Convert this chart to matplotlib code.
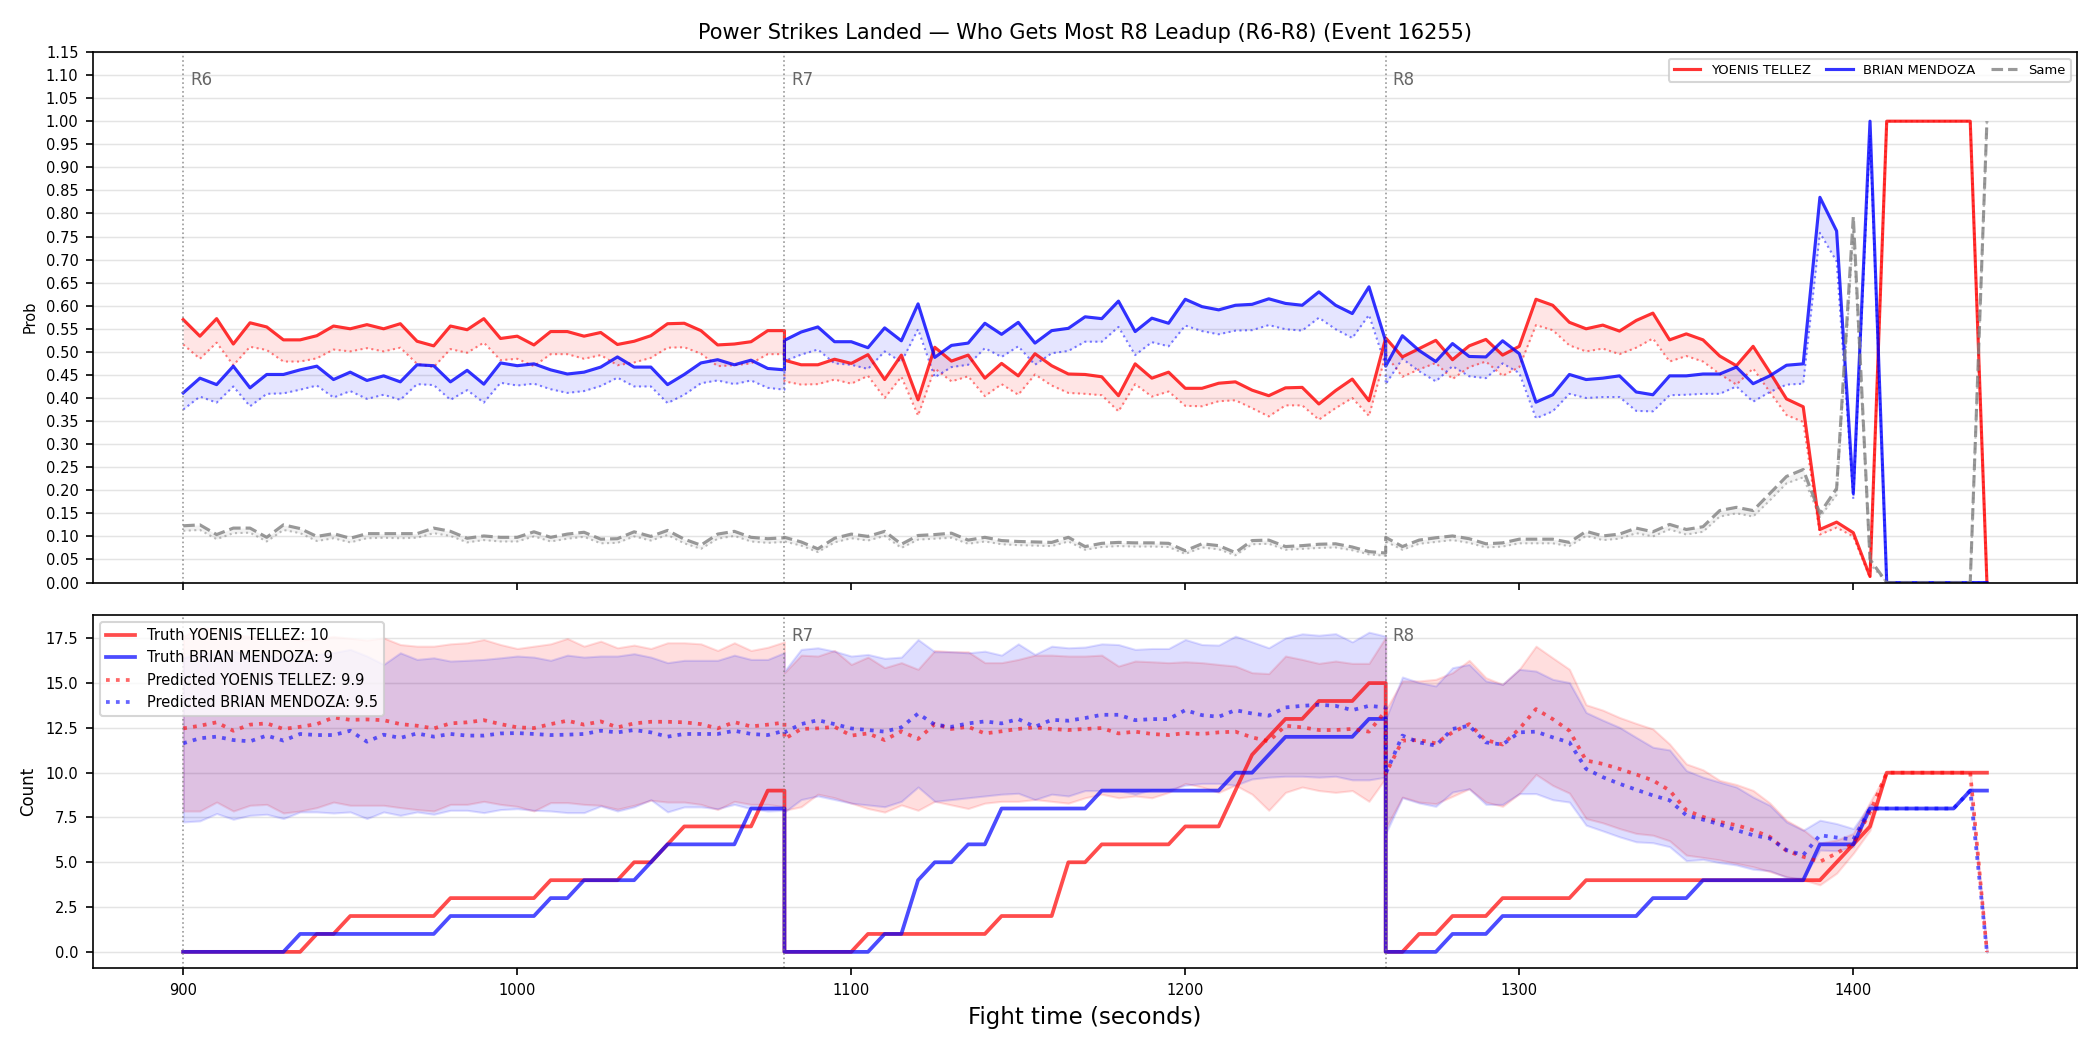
import numpy as np
import matplotlib
matplotlib.use("Agg")
import matplotlib.pyplot as plt

# ---------------- data ----------------
T6 = list(range(900, 1081, 5))
T7 = list(range(1080, 1261, 5))
T8 = list(range(1260, 1441, 5))
round_starts = [900, 1080, 1260]
round_labels = ["R6", "R7", "R8"]

# Top panel: probability (truth solid, predicted dotted)
red_prob_6 = [0.570, 0.534, 0.572, 0.517, 0.563, 0.554, 0.526, 0.526, 0.535, 0.556, 0.550, 0.559, 0.550, 0.561,
              0.523, 0.513, 0.556, 0.548, 0.572, 0.529, 0.534, 0.515, 0.544, 0.544, 0.534, 0.542, 0.516, 0.523,
              0.535, 0.561, 0.562, 0.546, 0.515, 0.517, 0.522, 0.546, 0.546]
red_pred_6 = [0.516, 0.485, 0.520, 0.471, 0.511, 0.504, 0.479, 0.479, 0.486, 0.505, 0.501, 0.508, 0.501, 0.509,
              0.474, 0.467, 0.506, 0.498, 0.520, 0.482, 0.485, 0.469, 0.495, 0.495, 0.485, 0.493, 0.471, 0.477,
              0.487, 0.509, 0.510, 0.496, 0.469, 0.471, 0.475, 0.495, 0.495]
blue_prob_6 = [0.411, 0.443, 0.429, 0.469, 0.422, 0.451, 0.451, 0.461, 0.469, 0.440, 0.456, 0.438, 0.448, 0.435,
               0.472, 0.470, 0.435, 0.460, 0.430, 0.476, 0.470, 0.474, 0.461, 0.452, 0.456, 0.467, 0.489, 0.467,
               0.467, 0.429, 0.451, 0.476, 0.483, 0.472, 0.482, 0.464, 0.461]
blue_pred_6 = [0.375, 0.403, 0.390, 0.425, 0.382, 0.409, 0.410, 0.418, 0.427, 0.401, 0.415, 0.398, 0.407, 0.396,
               0.430, 0.428, 0.396, 0.417, 0.390, 0.433, 0.427, 0.431, 0.419, 0.411, 0.415, 0.426, 0.444, 0.425,
               0.425, 0.389, 0.407, 0.432, 0.438, 0.430, 0.438, 0.422, 0.418]
same_prob_6 = [0.123, 0.125, 0.104, 0.118, 0.118, 0.098, 0.125, 0.117, 0.100, 0.106, 0.096, 0.106, 0.106, 0.106,
               0.106, 0.118, 0.111, 0.096, 0.101, 0.098, 0.098, 0.110, 0.098, 0.105, 0.109, 0.094, 0.095, 0.110,
               0.100, 0.113, 0.094, 0.081, 0.105, 0.111, 0.098, 0.095, 0.097]
same_pred_6 = [0.112, 0.114, 0.094, 0.107, 0.108, 0.089, 0.114, 0.107, 0.090, 0.096, 0.087, 0.096, 0.097, 0.096,
               0.097, 0.107, 0.101, 0.087, 0.092, 0.089, 0.089, 0.100, 0.089, 0.095, 0.099, 0.085, 0.086, 0.100,
               0.091, 0.103, 0.085, 0.073, 0.095, 0.101, 0.089, 0.086, 0.088]

red_prob_7 = [0.482, 0.472, 0.472, 0.484, 0.475, 0.494, 0.440, 0.493, 0.396, 0.510, 0.480, 0.493, 0.443, 0.475,
              0.448, 0.496, 0.470, 0.452, 0.451, 0.446, 0.405, 0.474, 0.443, 0.456, 0.421, 0.421, 0.432, 0.435,
              0.417, 0.405, 0.422, 0.423, 0.387, 0.416, 0.441, 0.394, 0.530]
red_pred_7 = [0.436, 0.429, 0.430, 0.440, 0.431, 0.448, 0.400, 0.446, 0.362, 0.464, 0.436, 0.447, 0.404, 0.430,
              0.407, 0.451, 0.427, 0.411, 0.409, 0.406, 0.371, 0.430, 0.403, 0.414, 0.383, 0.382, 0.393, 0.395,
              0.378, 0.360, 0.384, 0.384, 0.353, 0.378, 0.400, 0.361, 0.494]
blue_prob_7 = [0.525, 0.543, 0.554, 0.522, 0.522, 0.509, 0.552, 0.524, 0.604, 0.488, 0.514, 0.519, 0.562, 0.538,
               0.564, 0.519, 0.546, 0.551, 0.576, 0.572, 0.610, 0.544, 0.573, 0.562, 0.614, 0.598, 0.591, 0.601,
               0.603, 0.615, 0.605, 0.601, 0.630, 0.601, 0.583, 0.641, 0.523]
blue_pred_7 = [0.480, 0.494, 0.505, 0.475, 0.472, 0.463, 0.501, 0.478, 0.549, 0.445, 0.467, 0.472, 0.508, 0.489,
               0.512, 0.472, 0.497, 0.502, 0.522, 0.522, 0.554, 0.493, 0.521, 0.512, 0.557, 0.545, 0.538, 0.546,
               0.547, 0.558, 0.549, 0.546, 0.574, 0.549, 0.530, 0.580, 0.470]
same_prob_7 = [0.098, 0.088, 0.073, 0.096, 0.105, 0.100, 0.111, 0.083, 0.102, 0.104, 0.107, 0.092, 0.098, 0.091,
               0.089, 0.088, 0.087, 0.098, 0.078, 0.085, 0.087, 0.086, 0.086, 0.085, 0.069, 0.084, 0.080, 0.065,
               0.091, 0.092, 0.078, 0.080, 0.083, 0.084, 0.077, 0.067, 0.064]
same_pred_7 = [0.089, 0.080, 0.066, 0.087, 0.096, 0.091, 0.101, 0.075, 0.093, 0.095, 0.097, 0.084, 0.089, 0.083,
               0.081, 0.080, 0.079, 0.089, 0.071, 0.077, 0.079, 0.078, 0.078, 0.077, 0.062, 0.076, 0.072, 0.059,
               0.083, 0.084, 0.071, 0.073, 0.075, 0.076, 0.070, 0.061, 0.058]

red_prob_8 = [0.530, 0.489, 0.507, 0.525, 0.483, 0.513, 0.527, 0.493, 0.512, 0.614, 0.601, 0.564, 0.550, 0.558,
              0.545, 0.568, 0.584, 0.526, 0.539, 0.526, 0.491, 0.470, 0.512, 0.456, 0.398, 0.381, 0.115, 0.131,
              0.108, 0.013, 1.0, 1.0, 1.0, 1.0, 1.0, 1.0, 0.0]
red_pred_8 = [0.494, 0.446, 0.462, 0.476, 0.441, 0.467, 0.479, 0.448, 0.467, 0.558, 0.547, 0.514, 0.501, 0.507,
              0.495, 0.509, 0.529, 0.479, 0.491, 0.479, 0.452, 0.429, 0.464, 0.413, 0.363, 0.348, 0.104, 0.119,
              0.100, 0.010, 1.0, 1.0, 1.0, 1.0, 1.0, 1.0, 0.0]
blue_prob_8 = [0.469, 0.535, 0.503, 0.479, 0.518, 0.490, 0.489, 0.524, 0.496, 0.391, 0.407, 0.451, 0.440, 0.443,
               0.448, 0.413, 0.407, 0.448, 0.448, 0.452, 0.452, 0.467, 0.431, 0.448, 0.471, 0.474, 0.835, 0.762,
               0.193, 1.0, 0.0, 0.0, 0.0, 0.0, 0.0, 0.0, 0.0]
blue_pred_8 = [0.430, 0.485, 0.458, 0.436, 0.469, 0.447, 0.443, 0.475, 0.454, 0.356, 0.371, 0.409, 0.400, 0.402,
               0.402, 0.372, 0.371, 0.406, 0.407, 0.409, 0.409, 0.425, 0.392, 0.413, 0.429, 0.431, 0.758, 0.696,
               0.181, 0.970, 0.0, 0.0, 0.0, 0.0, 0.0, 0.0, 0.0]
same_prob_8 = [0.098, 0.078, 0.092, 0.097, 0.101, 0.095, 0.084, 0.086, 0.094, 0.094, 0.094, 0.087, 0.111, 0.101,
               0.105, 0.118, 0.110, 0.126, 0.115, 0.121, 0.156, 0.163, 0.156, 0.193, 0.230, 0.245, 0.150, 0.204,
               0.793, 0.050, 0.0, 0.0, 0.0, 0.0, 0.0, 0.0, 1.0]
same_pred_8 = [0.089, 0.071, 0.084, 0.088, 0.092, 0.086, 0.076, 0.078, 0.085, 0.085, 0.085, 0.079, 0.101, 0.092,
               0.095, 0.107, 0.100, 0.115, 0.104, 0.110, 0.143, 0.150, 0.143, 0.178, 0.215, 0.228, 0.142, 0.190,
               0.760, 0.040, 0.0, 0.0, 0.0, 0.0, 0.0, 0.0, 1.0]

# Bottom panel: counts
red_truth_6 = [0, 0, 0, 0, 0, 0, 0, 0, 1, 1, 2, 2, 2, 2, 2, 2, 3, 3, 3, 3, 3, 3, 4, 4, 4, 4, 4, 5, 5, 6, 7, 7, 7, 7, 7, 9, 9]
blue_truth_6 = [0, 0, 0, 0, 0, 0, 0, 1, 1, 1, 1, 1, 1, 1, 1, 1, 2, 2, 2, 2, 2, 2, 3, 3, 4, 4, 4, 4, 5, 6, 6, 6, 6, 6, 8, 8, 8]
red_truth_7 = [0, 0, 0, 0, 0, 1, 1, 1, 1, 1, 1, 1, 1, 2, 2, 2, 2, 5, 5, 6, 6, 6, 6, 6, 7, 7, 7, 9, 11, 12, 13, 13, 14, 14, 14, 15, 15]
blue_truth_7 = [0, 0, 0, 0, 0, 0, 1, 1, 4, 5, 5, 6, 6, 8, 8, 8, 8, 8, 8, 9, 9, 9, 9, 9, 9, 9, 9, 10, 10, 11, 12, 12, 12, 12, 12, 13, 13]
red_truth_8 = [0, 0, 1, 1, 2, 2, 2, 3, 3, 3, 3, 3, 4, 4, 4, 4, 4, 4, 4, 4, 4, 4, 4, 4, 4, 4, 4, 5, 6, 7, 10, 10, 10, 10, 10, 10, 10]
blue_truth_8 = [0, 0, 0, 0, 1, 1, 1, 2, 2, 2, 2, 2, 2, 2, 2, 2, 3, 3, 3, 4, 4, 4, 4, 4, 4, 4, 6, 6, 6, 8, 8, 8, 8, 8, 8, 9, 9]

red_mean_6 = [12.47, 12.62, 12.81, 12.34, 12.68, 12.75, 12.44, 12.56, 12.71, 13.08, 12.95, 12.97, 12.93, 12.71,
              12.62, 12.47, 12.75, 12.81, 12.93, 12.71, 12.53, 12.49, 12.71, 12.90, 12.68, 12.86, 12.53, 12.75,
              12.84, 12.84, 12.81, 12.71, 12.47, 12.82, 12.58, 12.68, 12.80]
blue_mean_6 = [11.64, 11.92, 12.01, 11.82, 11.75, 12.07, 11.79, 12.16, 12.10, 12.10, 12.34, 11.73, 12.12, 11.94,
               12.19, 12.01, 12.16, 12.07, 12.07, 12.19, 12.21, 12.16, 12.10, 12.12, 12.16, 12.34, 12.25, 12.38,
               12.25, 12.01, 12.16, 12.16, 12.16, 12.34, 12.16, 12.10, 12.34]
red_mean_7 = [11.88, 12.44, 12.47, 12.56, 12.07, 12.19, 11.82, 12.31, 11.88, 12.71, 12.44, 12.56, 12.19, 12.31,
              12.44, 12.53, 12.44, 12.38, 12.44, 12.49, 12.19, 12.29, 12.16, 12.10, 12.21, 12.16, 12.25, 12.29,
              11.97, 11.75, 12.62, 12.53, 12.38, 12.38, 12.44, 12.29, 13.45]
blue_mean_7 = [12.25, 12.71, 12.93, 12.71, 12.47, 12.38, 12.29, 12.53, 13.30, 12.68, 12.56, 12.75, 12.86, 12.75,
               12.99, 12.56, 12.95, 12.90, 13.05, 13.23, 13.23, 12.93, 12.99, 12.99, 13.49, 13.21, 13.12, 13.49,
               13.30, 13.18, 13.64, 13.73, 13.79, 13.73, 13.49, 13.73, 13.64]
red_mean_8 = [9.94, 11.79, 11.82, 11.64, 12.25, 12.71, 11.82, 11.57, 12.44, 13.55, 12.99, 12.34, 10.68, 10.49,
              10.21, 9.90, 9.57, 9.01, 7.90, 7.53, 7.25, 7.07, 6.79, 6.42, 5.64, 5.31, 5.03, 5.50, 6.05, 7.80,
              10.0, 10.0, 10.0, 10.0, 10.0, 10.0, 0.0]
blue_mean_8 = [9.94, 12.07, 11.69, 11.51, 12.44, 12.62, 11.69, 11.57, 12.25, 12.29, 11.97, 11.69, 10.21, 9.75,
               9.38, 9.05, 8.73, 8.46, 7.62, 7.38, 7.12, 6.79, 6.51, 6.33, 5.68, 5.40, 6.51, 6.38, 6.27, 7.99,
               8.0, 8.0, 8.0, 8.0, 8.0, 9.0, 0.0]

red_hi_6 = [17.6, 18.1, 18.0, 17.7, 17.6, 17.5, 17.6, 17.4, 17.5, 17.6, 17.5, 17.4, 17.52, 17.15, 17.06, 17.06,
            17.19, 17.25, 17.43, 17.15, 16.93, 17.06, 17.19, 17.49, 17.06, 17.34, 16.97, 17.12, 16.93, 17.25,
            17.25, 17.19, 16.82, 17.25, 16.82, 17.00, 17.30]
red_lo_6 = [7.86, 7.86, 8.36, 7.86, 8.18, 8.23, 7.75, 7.86, 8.05, 8.36, 8.18, 8.18, 8.18, 8.05, 7.94, 7.86,
            8.23, 8.23, 8.40, 8.23, 8.12, 7.86, 8.33, 8.33, 8.23, 8.18, 7.96, 8.18, 8.46, 8.36, 8.36, 8.23,
            7.94, 8.40, 8.23, 8.23, 8.10]
blue_hi_6 = [16.4, 16.7, 16.6, 16.8, 16.5, 16.6, 16.4, 16.7, 16.6, 16.7, 16.88, 16.51, 16.04, 16.69, 16.32,
             16.41, 16.23, 16.27, 16.32, 16.41, 16.51, 16.45, 16.27, 16.56, 16.45, 16.51, 16.51, 16.64, 16.45,
             16.14, 16.27, 16.27, 16.27, 16.56, 16.32, 16.32, 16.70]
blue_lo_6 = [7.25, 7.31, 7.72, 7.40, 7.62, 7.68, 7.44, 7.81, 7.81, 7.75, 7.81, 7.44, 7.81, 7.62, 7.81, 7.68,
             7.90, 7.90, 7.77, 7.94, 7.99, 7.90, 7.86, 7.77, 7.77, 8.14, 7.86, 8.09, 8.49, 7.81, 8.09, 8.09,
             7.99, 8.23, 7.99, 7.86, 7.90]
red_hi_7 = [15.58, 16.56, 16.51, 16.82, 16.04, 16.45, 15.86, 16.14, 15.77, 16.82, 16.75, 16.75, 16.14, 16.14,
            16.32, 16.56, 16.56, 16.51, 16.51, 16.56, 15.95, 16.23, 16.19, 16.14, 16.19, 16.14, 16.04, 15.95,
            15.58, 15.53, 16.51, 16.32, 16.10, 16.23, 16.10, 16.10, 17.56]
red_lo_7 = [7.9, 8.1, 8.8, 8.6, 8.3, 8.0, 7.8, 8.2, 7.9, 8.4, 8.2, 8.0, 8.3, 8.4, 8.4, 8.5, 8.4, 8.3, 8.6,
            8.8, 8.6, 8.7, 8.6, 8.9, 9.4, 9.2, 8.9, 9.3, 8.8, 7.9, 8.9, 9.2, 9.0, 8.9, 9.0, 8.4, 9.7]
blue_hi_7 = [15.67, 16.88, 16.97, 16.78, 16.51, 16.60, 16.38, 16.45, 17.43, 16.75, 16.75, 16.69, 16.78, 16.56,
             17.19, 16.60, 17.06, 16.97, 17.01, 17.19, 17.15, 16.88, 16.93, 16.93, 17.43, 17.15, 17.12, 17.62,
             17.30, 16.97, 17.52, 17.75, 17.67, 17.76, 17.30, 17.84, 17.62]
blue_lo_7 = [7.8, 8.5, 8.7, 8.5, 8.3, 8.2, 8.1, 8.4, 9.2, 8.4, 8.5, 8.6, 8.7, 8.8, 8.85, 8.5, 8.8, 8.7, 9.0,
             9.0, 9.0, 8.8, 9.05, 9.05, 9.3, 9.4, 9.4, 9.3, 9.65, 9.75, 9.8, 9.8, 9.75, 9.8, 9.6, 9.6, 9.75]
red_hi_8 = [13.5, 15.12, 15.12, 15.21, 15.58, 16.27, 15.30, 14.93, 15.77, 17.06, 16.41, 15.77, 13.79, 13.49,
            13.08, 12.75, 12.44, 11.60, 10.49, 10.16, 9.57, 9.34, 9.01, 8.31, 7.34, 6.82, 6.08, 6.24, 6.61,
            8.36, 10.0, 10.0, 10.0, 10.0, 10.0, 10.0, 0.0]
red_lo_8 = [6.9, 8.64, 8.36, 8.27, 8.68, 9.10, 8.36, 8.12, 8.83, 9.90, 9.29, 8.86, 7.44, 7.20, 6.88, 6.61,
            6.51, 6.20, 5.40, 5.27, 5.13, 4.94, 4.75, 4.48, 4.20, 4.02, 3.74, 4.39, 5.50, 6.79, 10.0, 10.0,
            10.0, 10.0, 10.0, 10.0, 0.0]
blue_hi_8 = [13.0, 15.34, 15.03, 14.84, 15.86, 16.04, 15.12, 14.93, 15.77, 15.67, 15.21, 15.03, 13.36, 12.93,
             12.53, 11.97, 11.42, 11.27, 10.12, 9.75, 9.47, 9.20, 8.64, 8.18, 7.25, 6.79, 7.35, 7.16, 6.88,
             8.23, 8.0, 8.0, 8.0, 8.0, 8.0, 9.0, 0.0]
blue_lo_8 = [6.6, 8.60, 8.31, 8.12, 8.92, 9.10, 8.23, 8.23, 8.83, 8.83, 8.49, 8.36, 7.07, 6.75, 6.42, 6.14,
             6.09, 5.87, 5.09, 5.16, 4.98, 4.85, 4.61, 4.53, 4.16, 4.11, 5.68, 5.64, 5.87, 8.18, 8.0, 8.0,
             8.0, 8.0, 8.0, 9.0, 0.0]

fighter_red = "YOENIS TELLEZ"
fighter_blue = "BRIAN MENDOZA"
final_red_truth, final_blue_truth = 10, 9
final_red_pred, final_blue_pred = 9.9, 9.5

# ---------------- helpers ----------------
def cat(a, b, c):
    return np.array(list(a) + list(b) + list(c), dtype=float)

t = cat(T6, T7, T8)

RED = "#ff0000"
BLUE = "#0000ff"
GRAY = "#808080"

fig = plt.figure(figsize=(14, 7), dpi=150)
ax1 = fig.add_axes([0.0443, 0.4452, 0.9448, 0.5053])
ax2 = fig.add_axes([0.0443, 0.0781, 0.9448, 0.3362], sharex=ax1)

# ---------------- top panel ----------------
rp, rq = cat(red_prob_6, red_prob_7, red_prob_8), cat(red_pred_6, red_pred_7, red_pred_8)
bp, bq = cat(blue_prob_6, blue_prob_7, blue_prob_8), cat(blue_pred_6, blue_pred_7, blue_pred_8)
sp, sq = cat(same_prob_6, same_prob_7, same_prob_8), cat(same_pred_6, same_pred_7, same_pred_8)

ax1.fill_between(t, rp, rq, color=RED, alpha=0.1, lw=0)
ax1.fill_between(t, bp, bq, color=BLUE, alpha=0.1, lw=0)
ax1.fill_between(t, sp, sq, color=GRAY, alpha=0.1, lw=0)
ax1.plot(t, rq, color=RED, ls=":", lw=1.0, alpha=0.5)
ax1.plot(t, bq, color=BLUE, ls=":", lw=1.0, alpha=0.5)
ax1.plot(t, sq, color=GRAY, ls=":", lw=1.0, alpha=0.5)
l1, = ax1.plot(t, rp, color=RED, lw=1.5, alpha=0.8, label=fighter_red)
l2, = ax1.plot(t, bp, color=BLUE, lw=1.5, alpha=0.8, label=fighter_blue)
l3, = ax1.plot(t, sp, color=GRAY, lw=1.5, ls="--", alpha=0.8, label="Same")

ax1.set_ylim(0, 1.15)
ax1.set_yticks(np.round(np.arange(0, 1.1501, 0.05), 2))
ax1.set_yticklabels([f"{v:.2f}" for v in np.arange(0, 1.1501, 0.05)])
ax1.set_ylabel("Prob", fontsize=7)
ax1.grid(axis="y", color="#d9d9d9", lw=0.7, alpha=0.7)
ax1.set_axisbelow(True)
ax1.tick_params(axis="both", labelsize=7)
plt.setp(ax1.get_xticklabels(), visible=False)
ax1.legend(handles=[l1, l2, l3], loc="upper right", ncol=3, fontsize=6.3, framealpha=0.8,
           columnspacing=1.2)
ax1.set_title("Power Strikes Landed \u2014 Who Gets Most R8 Leadup (R6-R8) (Event 16255)", fontsize=10, pad=6)

# ---------------- bottom panel ----------------
rh, rl = cat(red_hi_6, red_hi_7, red_hi_8), cat(red_lo_6, red_lo_7, red_lo_8)
bh, bl = cat(blue_hi_6, blue_hi_7, blue_hi_8), cat(blue_lo_6, blue_lo_7, blue_lo_8)
rt, bt = cat(red_truth_6, red_truth_7, red_truth_8), cat(blue_truth_6, blue_truth_7, blue_truth_8)
rm, bm = cat(red_mean_6, red_mean_7, red_mean_8), cat(blue_mean_6, blue_mean_7, blue_mean_8)

ax2.fill_between(t, rl, rh, color=RED, alpha=0.13)
ax2.fill_between(t, bl, bh, color=BLUE, alpha=0.13)
ax2.plot(t, rt, color=RED, lw=1.8, alpha=0.7, label=f"Truth {fighter_red}: {final_red_truth}")
ax2.plot(t, bt, color=BLUE, lw=1.8, alpha=0.7, label=f"Truth {fighter_blue}: {final_blue_truth}")
ax2.plot(t, rm, color=RED, lw=1.8, ls=":", alpha=0.6, label=f"Predicted {fighter_red}: {final_red_pred}")
ax2.plot(t, bm, color=BLUE, lw=1.8, ls=":", alpha=0.6, label=f"Predicted {fighter_blue}: {final_blue_pred}")
ax2.set_ylim(-0.9, 18.8)
ax2.set_yticks(np.arange(0, 17.6, 2.5))
ax2.set_ylabel("Count", fontsize=8)
ax2.set_xlabel("Fight time (seconds)", fontsize=11)
ax2.grid(axis="y", color="#d9d9d9", lw=0.7, alpha=0.7)
ax2.set_axisbelow(True)
ax2.tick_params(axis="both", labelsize=7)
ax2.set_xticks([900, 1000, 1100, 1200, 1300, 1400])
ax2.set_xlim(873, 1467)
leg2 = ax2.legend(loc="upper left", fontsize=7, framealpha=0.8)
leg2.set_zorder(10)

for ax, labels_shown in ((ax1, round_labels), (ax2, ["", "R7", "R8"])):
    for x0, lab in zip(round_starts, labels_shown):
        ax.axvline(x0, color="gray", ls=":", lw=0.8, alpha=0.8)
        if lab:
            ax.text(x0 + 2, 0.965, lab, transform=ax.get_xaxis_transform(), color="#666666",
                    fontsize=8, va="top", ha="left")

fig.savefig("out.png", dpi=150)
